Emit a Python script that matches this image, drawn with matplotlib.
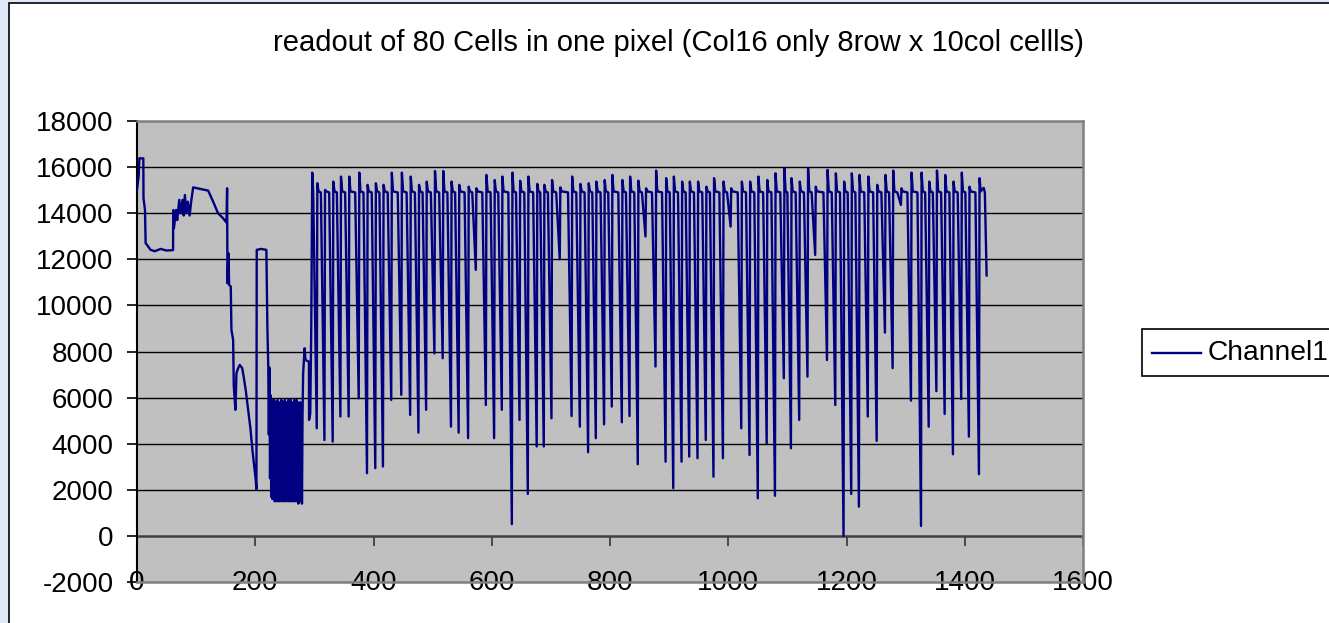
import numpy as np
import matplotlib
matplotlib.use("Agg")
import matplotlib.pyplot as plt
from matplotlib.patches import Rectangle
from matplotlib.lines import Line2D

plt.rcParams['font.family'] = ['Liberation Sans', 'DejaVu Sans']
plt.rcParams['axes.unicode_minus'] = False

# ===== data =====
# start-up part (sample index, ADC value)
early_x = [0, 3, 4, 10.7, 11, 13.5, 14.6, 17, 23, 30, 40, 50, 61, 61.3, 62.5, 66, 68, 71.5,
           73.5, 77, 79, 81, 83.5, 86, 89, 92, 95, 120.4, 128.8, 137, 145.7, 151.3, 152.4,
           153, 154.7, 155.8, 158.6, 159.7, 162.6, 163.7, 166.5, 168.2, 171, 173.8, 178,
           180.6, 184, 187.9, 191.8, 195.2, 198, 200.8, 202, 202.5, 210, 218.8, 220.5]
early_y = [15010, 15660, 16380, 16380, 14650, 14140, 12700, 12620, 12410, 12350, 12450, 12380,
           12400, 14140, 13350, 14140, 13700, 14580, 14000, 14580, 13900, 14790, 14000, 14500,
           13900, 14580, 15120, 14980, 14500, 14000, 13780, 13590, 15080, 10960, 12260, 10890,
           10820, 8940, 8500, 6480, 5470, 7060, 7270, 7420, 7270, 6880, 6300, 5470, 4670, 3730,
           3080, 2430, 2020, 12410, 12450, 12410, 9080]

# dense oscillating block
block_x = list(range(222, 282))
block_y = [7350, 4400, 7300, 2500, 6100, 1700, 5900, 1600, 5800, 2400, 5900, 1500, 5700, 1800,
           5800, 1500, 5900, 1600, 5600, 1500, 5800, 2000, 5900, 1500, 5700, 1600, 5800, 1500,
           5900, 1700, 5800, 1500, 5700, 1600, 5900, 1500, 5800, 2200, 5900, 1500, 5800, 1600,
           5700, 1500, 5900, 1700, 5800, 1500, 5900, 1600, 5800, 1400, 5700, 1500, 5800, 1600,
           5600, 1400, 5300, 7060]

post_x = [283.5, 285, 290.8, 291, 293, 294.7, 296.4, 298]
post_y = [8140, 7630, 7560, 5030, 5300, 8940, 15760, 14950]

# one dip per cell: position of minimum, minimum, peak after recovery
spike_x = [304, 317, 331, 344, 358, 375, 389, 403, 416, 430, 447, 462, 476, 489, 503, 517, 531,
           544, 560, 573, 590, 604, 617, 634, 647, 661, 676, 688, 701, 715, 735, 749, 763, 776,
           790, 803, 820, 833, 847, 860, 877, 894, 907, 921, 934, 948, 962, 975, 991, 1004, 1022,
           1036, 1050, 1065, 1079, 1094, 1106, 1120, 1134, 1147, 1167, 1181, 1195, 1208, 1221,
           1236, 1251, 1265, 1278, 1292, 1309, 1326, 1339, 1352, 1366, 1380, 1394, 1407, 1424]
spike_min = [4670, 4160, 4090, 5180, 5180, 5970, 2720, 2940, 3010, 5900, 6120, 5250, 4480, 5470,
             7920, 7710, 4740, 4480, 4240, 11540, 5680, 4240, 5470, 510, 5030, 1820, 3880, 3880,
             5100, 12000, 5200, 4740, 3630, 4240, 4840, 5610, 4930, 5200, 3110, 12990, 7350, 3220,
             2070, 3220, 3440, 3370, 4160, 2570, 3370, 13420, 4670, 3510, 1630, 4020, 1740, 6840,
             3800, 5030, 6910, 12190, 7630, 5680, 0, 1820, 1270, 5180, 4120, 8820, 7280, 14360,
             5870, 430, 4740, 6280, 5290, 3540, 5940, 4310, 2680]
spike_peak = [15300, 15010, 15370, 15590, 15590, 15760, 15230, 15300, 15230, 15760, 15760, 15590,
              15230, 15370, 15830, 15830, 15370, 15230, 15150, 15080, 15660, 15440, 15590, 15760,
              15410, 15590, 15270, 15230, 15440, 15120, 15590, 15270, 15300, 15370, 15440, 15660,
              15440, 15590, 15410, 15080, 15850, 15520, 15590, 15370, 15370, 15370, 15150, 15520,
              15370, 15080, 15370, 15370, 15590, 15440, 15730, 15950, 15520, 15370, 15950, 15150,
              15880, 15730, 15370, 15730, 15660, 15590, 15230, 15660, 15850, 15080, 15760, 15760,
              15370, 15850, 15660, 15370, 15760, 15150, 15520]
plateau = 14900

end_x = [1432, 1434, 1437]
end_y = [15100, 14900, 11300]

# ===== build the trace =====
xs = early_x + block_x + post_x
ys = early_y + block_y + post_y
for xm, lo, hi in zip(spike_x, spike_min, spike_peak):
    xs += [xm - 6, xm, xm + 1, xm + 3]
    ys += [plateau, lo, hi, plateau + 50]
xs += end_x
ys += end_y

fig = plt.figure(figsize=(13.29, 6.23), dpi=100, facecolor='#dde9f7')
W, H = 1329, 623

# white chart area with black frame (behind the axes)
fig.patches.append(Rectangle((9 / W, -0.1), 1.2, 1 - 3 / H + 0.1, transform=fig.transFigure,
                             facecolor='white', edgecolor='black', linewidth=1.2, zorder=-5))

ax = fig.add_axes([137 / W, 1 - 582 / H, (1083 - 137) / W, (582 - 121) / H])
ax.set_zorder(2)
ax.set_facecolor('#c0c0c0')
ax.plot(xs, ys, color='#000080', linewidth=1.7, zorder=3)

ax.set_xlim(0, 1600)
ax.set_ylim(-2000, 18000)
ax.set_yticks(np.arange(-2000, 18001, 2000))
ax.set_xticks(np.arange(0, 1601, 200))

for v in range(2000, 18000, 2000):
    ax.axhline(v, color='black', linewidth=1.0, zorder=1)
ax.axhline(0, color='#404040', linewidth=1.8, zorder=2)
ax.vlines(np.arange(200, 1601, 200), -430, 0, color='#404040', linewidth=1.3, zorder=2)

for s in ['top', 'right', 'bottom']:
    ax.spines[s].set_color('#808080')
    ax.spines[s].set_linewidth(1.8)
ax.spines['left'].set_color('black')
ax.spines['left'].set_linewidth(1.5)

ax.tick_params(axis='y', length=7, width=1.2, pad=10, labelsize=20)
ax.tick_params(axis='x', length=0, pad=-8.6, labelsize=20)

fig.text(678 / W, 1 - 51 / H, 'readout of 80 Cells in one pixel (Col16 only 8row x 10col cellls)',
         ha='center', va='baseline', fontsize=21)

# legend box (runs off the right edge as in the original)
fig.patches.append(Rectangle((1142 / W, 1 - 376 / H), 0.2, 47 / H, transform=fig.transFigure,
                             facecolor='white', edgecolor='black', linewidth=1.2, zorder=5))
fig.lines.append(Line2D([1152 / W, 1201 / W], [1 - 353 / H] * 2, transform=fig.transFigure,
                        color='#000080', linewidth=1.7, zorder=6))
fig.text(1208 / W, 1 - 353 / H, 'Channel1', ha='left', va='center', fontsize=20.3, zorder=7)

fig.savefig('out.png', dpi=100, facecolor=fig.get_facecolor())
